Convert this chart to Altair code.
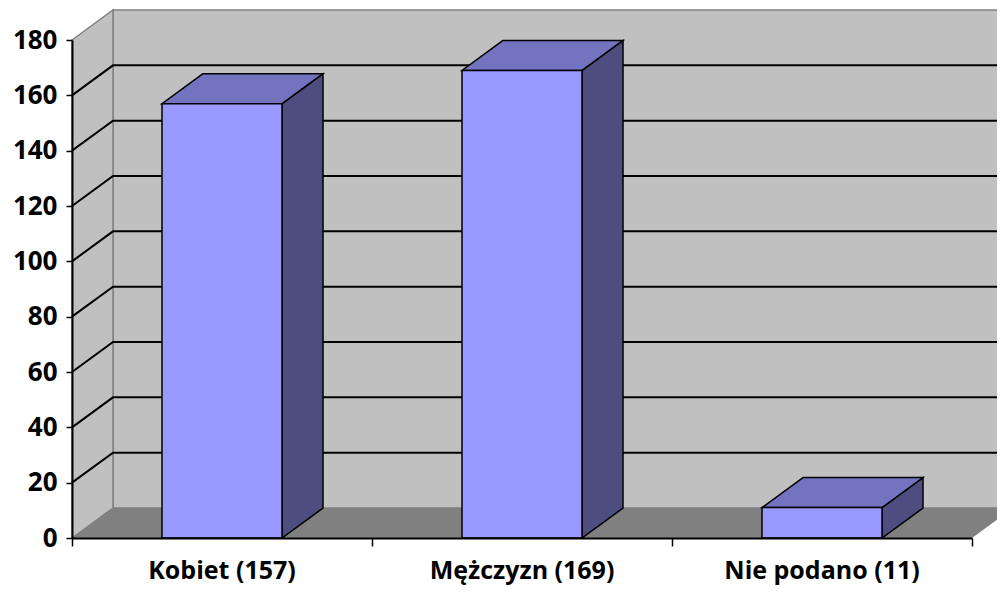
import altair as alt
import pandas as pd

# ---- data ----
categories = ["Kobiet (157)", "Mężczyzn (169)", "Nie podano (11)"]
values = [157, 169, 11]
y_ticks = [0, 20, 40, 60, 80, 100, 120, 140, 160, 180]

# ---- 3D geometry (in data units) ----
YMAX = 180
NCAT = len(categories)
DX = 41 / 300          # depth offset along x (category units)
DY = 10.84             # depth offset along y (value units)
HALF = 0.2             # half bar width (category units)

FONT = "Open Sans"

xs = alt.Scale(domain=[0, NCAT], nice=False, zero=False)
ys = alt.Scale(domain=[0, YMAX], nice=False, zero=False)

# back wall
back = pd.DataFrame({"x": [DX], "x2": [NCAT + DX], "y": [DY], "y2": [YMAX + DY]})
# left wall (vertical area)
left = pd.DataFrame({"x": [0, DX], "top": [YMAX, YMAX + DY], "bot": [0, DY]})
# floor (horizontal area)
floor = pd.DataFrame({"y": [0, DY], "xa": [0, DX], "xb": [NCAT, NCAT + DX]})

# gridlines
grid_rows = []
for v in y_ticks[1:-1]:
    grid_rows += [
        {"v": v, "i": 0, "x": 0, "y": v},
        {"v": v, "i": 1, "x": DX, "y": v + DY},
        {"v": v, "i": 2, "x": NCAT + DX, "y": v + DY},
    ]
grid = pd.DataFrame(grid_rows)

# bars
front_rows, top_rows, side_rows, label_rows = [], [], [], []
for k, (c, v) in enumerate(zip(categories, values)):
    cx = k + 0.5
    front_rows.append({"cat": c, "x": cx - HALF, "x2": cx + HALF, "y": 0, "y2": v})
    top_rows += [
        {"cat": c, "y": v, "xa": cx - HALF, "xb": cx + HALF},
        {"cat": c, "y": v + DY, "xa": cx - HALF + DX, "xb": cx + HALF + DX},
    ]
    side_rows += [
        {"cat": c, "x": cx + HALF, "top": v, "bot": 0},
        {"cat": c, "x": cx + HALF + DX, "top": v + DY, "bot": DY},
    ]
    label_rows.append({"cat": c, "x": cx})
front = pd.DataFrame(front_rows)
topf = pd.DataFrame(top_rows)
side = pd.DataFrame(side_rows)
labels = pd.DataFrame(label_rows)

x_axis = alt.Axis(values=[0, 1, 2, 3], labels=False, title=None, grid=False,
                  tickColor="black", tickSize=8, tickWidth=1.5,
                  domainColor="black", domainWidth=2, zindex=1)
y_axis = alt.Axis(values=y_ticks, title=None, grid=False,
                  tickColor="black", tickSize=6, tickWidth=1.5,
                  domainColor="black", domainWidth=2,
                  labelFont=FONT, labelFontSize=26, labelFontWeight="bold",
                  labelColor="black", labelPadding=9, zindex=1)

back_l = alt.Chart(back).mark_rect(fill="#C0C0C0", stroke="#808080", strokeWidth=1.5).encode(
    x=alt.X("x:Q", scale=xs, axis=x_axis), x2="x2:Q",
    y=alt.Y("y:Q", scale=ys, axis=y_axis), y2="y2:Q")

left_l = alt.Chart(left).mark_area(fill="#C0C0C0", stroke="#808080", strokeWidth=1.5).encode(
    x=alt.X("x:Q", scale=xs), y=alt.Y("top:Q", scale=ys, stack=False), y2="bot:Q")

floor_l = alt.Chart(floor).mark_area(orient="horizontal", fill="#808080").encode(
    y=alt.Y("y:Q", scale=ys), x=alt.X("xa:Q", scale=xs, stack=False), x2="xb:Q")

grid_l = alt.Chart(grid).mark_line(color="black", strokeWidth=2).encode(
    x=alt.X("x:Q", scale=xs), y=alt.Y("y:Q", scale=ys),
    detail="v:N", order="i:Q")

side_l = alt.Chart(side).mark_area(fill="#4D4D80", stroke="black", strokeWidth=1.5).encode(
    x=alt.X("x:Q", scale=xs), y=alt.Y("top:Q", scale=ys, stack=False), y2="bot:Q",
    detail="cat:N")

top_l = alt.Chart(topf).mark_area(orient="horizontal", fill="#7373BF", stroke="black", strokeWidth=1.5).encode(
    y=alt.Y("y:Q", scale=ys), x=alt.X("xa:Q", scale=xs, stack=False), x2="xb:Q",
    detail="cat:N")

front_l = alt.Chart(front).mark_rect(fill="#9999FF", stroke="black", strokeWidth=1.5).encode(
    x=alt.X("x:Q", scale=xs), x2="x2:Q", y=alt.Y("y:Q", scale=ys), y2="y2:Q")

label_l = alt.Chart(labels).mark_text(font=FONT, fontSize=25, fontWeight="bold",
                                      color="black", baseline="middle").encode(
    x=alt.X("x:Q", scale=xs), y=alt.value(531), text="cat:N")

chart = alt.layer(back_l, left_l, floor_l, grid_l, side_l, top_l, front_l, label_l).properties(
    width=900, height=498,
    autosize=alt.AutoSizeParams(type="none"),
    padding={"left": 64, "top": 32, "right": 25, "bottom": 47},
).configure_view(stroke=None)

chart.save("out.html", embed_options={"renderer": "svg", "actions": False})
